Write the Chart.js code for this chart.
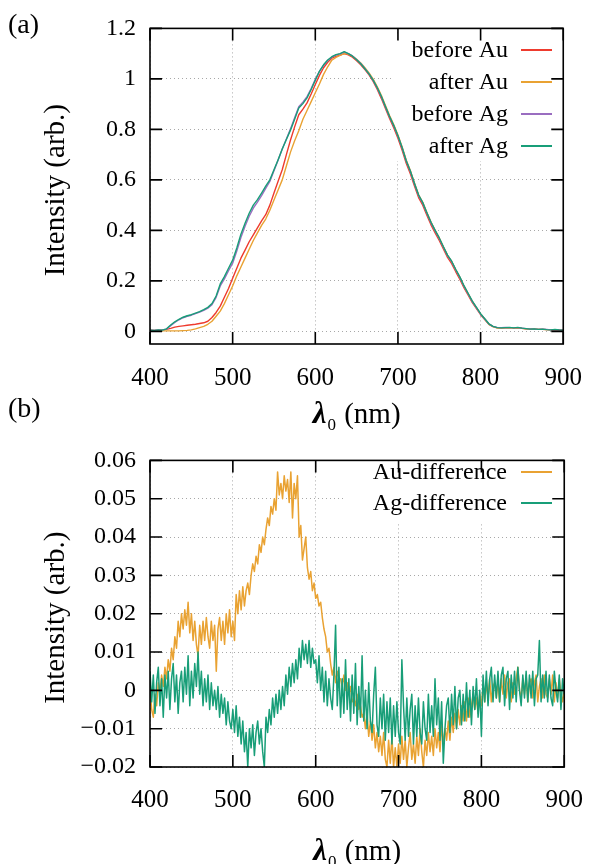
<!DOCTYPE html>
<html><head><meta charset="utf-8">
<script src="https://cdn.jsdelivr.net/npm/chart.js@4.4.1/dist/chart.umd.min.js"></script>
<style>
html,body{margin:0;padding:0;background:#fff;}
#wrap{position:relative;width:601px;height:864px;overflow:hidden;background:#fff;}
canvas{position:absolute;left:0;}
#c1{top:0}
#c2{top:432px}
</style></head><body>
<div id="wrap"><canvas id="c1" width="601" height="432"></canvas><canvas id="c2" width="601" height="432"></canvas></div>
<script>
const FONT = '"Liberation Serif", "Times New Roman", serif';

// ---------- DATA ----------
const xTickValues = [400, 500, 600, 700, 800, 900];
const topYTicks = [0, 0.2, 0.4, 0.6, 0.8, 1, 1.2];
const topYTickLabels = ['0', '0.2', '0.4', '0.6', '0.8', '1', '1.2'];
const bottomYTicks = [-0.02, -0.01, 0, 0.01, 0.02, 0.03, 0.04, 0.05, 0.06];
const bottomYTickLabels = ['\u22120.02', '\u22120.01', '0', '0.01', '0.02', '0.03', '0.04', '0.05', '0.06'];

// wavelengths (nm): top panel sampled every 5 nm, bottom every 2 nm
const topWavelengths = [];
for (let w = 400; w <= 900; w += 5) topWavelengths.push(w);
const bottomWavelengths = [];
for (let w = 400; w <= 900; w += 2) bottomWavelengths.push(w);

const beforeAu = [
 0.005,0.004,0.005,0.006,0.008,0.012,0.017,0.020,0.022,0.024,
 0.026,0.028,0.031,0.034,0.040,0.055,0.075,0.100,0.135,0.170,
 0.210,0.250,0.290,0.322,0.355,0.382,0.410,0.438,0.462,0.500,
 0.548,0.595,0.640,0.700,0.758,0.810,0.858,0.880,0.905,0.940,
 0.978,1.014,1.044,1.066,1.082,1.089,1.094,1.100,1.095,1.086,
 1.072,1.056,1.037,1.016,0.990,0.958,0.922,0.882,0.842,0.806,
 0.765,0.718,0.666,0.624,0.576,0.530,0.500,0.460,0.422,0.390,
 0.360,0.326,0.293,0.268,0.236,0.206,0.172,0.143,0.114,0.090,
 0.066,0.047,0.028,0.019,0.014,0.013,0.014,0.015,0.013,0.014,
 0.012,0.010,0.009,0.009,0.008,0.008,0.007,0.006,0.007,0.006,
 0.005];
const afterAu = [
 0.004,0.003,0.003,0.002,0.002,0.002,0.002,0.002,0.003,0.004,
 0.006,0.010,0.015,0.020,0.028,0.040,0.060,0.080,0.110,0.145,
 0.180,0.220,0.255,0.290,0.325,0.360,0.390,0.420,0.445,0.480,
 0.520,0.560,0.600,0.655,0.710,0.755,0.795,0.840,0.875,0.910,
 0.945,0.980,1.018,1.048,1.074,1.085,1.093,1.100,1.098,1.090,
 1.078,1.063,1.044,1.024,0.999,0.969,0.934,0.894,0.854,0.818,
 0.778,0.731,0.679,0.637,0.588,0.541,0.511,0.471,0.433,0.400,
 0.370,0.335,0.301,0.277,0.244,0.214,0.179,0.149,0.119,0.094,
 0.069,0.049,0.029,0.019,0.014,0.013,0.014,0.015,0.014,0.015,
 0.012,0.010,0.009,0.010,0.008,0.008,0.007,0.006,0.007,0.006,
 0.005];
const beforeAg = [
 0.005,0.004,0.005,0.006,0.009,0.022,0.035,0.046,0.054,0.060,
 0.064,0.070,0.076,0.083,0.092,0.106,0.135,0.180,0.208,0.240,
 0.270,0.318,0.372,0.416,0.456,0.488,0.512,0.538,0.566,0.594,
 0.636,0.678,0.722,0.762,0.802,0.846,0.890,0.908,0.930,0.962,
 0.998,1.030,1.054,1.073,1.086,1.094,1.099,1.106,1.100,1.091,
 1.077,1.061,1.041,1.020,0.994,0.963,0.928,0.888,0.849,0.813,
 0.773,0.727,0.675,0.633,0.584,0.538,0.508,0.468,0.430,0.398,
 0.368,0.333,0.300,0.276,0.243,0.213,0.178,0.148,0.118,0.093,
 0.068,0.049,0.030,0.020,0.016,0.015,0.016,0.015,0.015,0.015,
 0.013,0.011,0.010,0.009,0.008,0.009,0.008,0.006,0.007,0.006,
 0.005];
const afterAg = [
 0.005,0.004,0.006,0.005,0.010,0.025,0.038,0.048,0.056,0.062,
 0.066,0.072,0.078,0.086,0.095,0.110,0.140,0.188,0.217,0.250,
 0.282,0.330,0.385,0.428,0.468,0.500,0.522,0.548,0.575,0.600,
 0.640,0.680,0.722,0.760,0.797,0.840,0.885,0.902,0.925,0.958,
 0.995,1.030,1.056,1.075,1.088,1.096,1.100,1.108,1.100,1.090,
 1.076,1.060,1.040,1.020,0.995,0.965,0.930,0.890,0.850,0.815,
 0.775,0.728,0.676,0.635,0.586,0.540,0.510,0.470,0.432,0.400,
 0.370,0.335,0.302,0.278,0.245,0.215,0.180,0.150,0.120,0.095,
 0.070,0.050,0.030,0.020,0.015,0.014,0.015,0.016,0.014,0.016,
 0.013,0.011,0.009,0.010,0.008,0.009,0.007,0.006,0.008,0.006,
 0.005];

const auDifference = [
 0.001,-0.005,-0.007,-0.001,-0.004,0.002,-0.001,0.004,0.001,0.006,
 0.003,0.008,0.005,0.011,0.008,0.014,0.011,0.018,0.014,0.020,
 0.016,0.021,0.017,0.023,0.015,0.020,0.013,0.018,0.012,0.009,
 0.017,0.012,0.018,0.013,0.019,0.014,0.011,0.018,0.013,0.017,
 0.005,0.016,0.019,0.013,0.018,0.012,0.020,0.015,0.021,0.014,
 0.018,0.013,0.025,0.020,0.026,0.021,0.027,0.022,0.026,0.028,
 0.025,0.030,0.033,0.031,0.035,0.033,0.038,0.036,0.040,0.038,
 0.042,0.045,0.043,0.048,0.046,0.050,0.047,0.057,0.051,0.054,
 0.050,0.056,0.052,0.055,0.049,0.057,0.045,0.054,0.050,0.056,
 0.040,0.043,0.034,0.037,0.040,0.032,0.029,0.031,0.026,0.028,
 0.024,0.025,0.022,0.023,0.019,0.016,0.014,0.010,0.011,0.007,
 0.004,0.006,0.002,0.005,0.003,0.003,0.001,0.004,0.000,0.002,
 -0.001,0.001,-0.003,-0.002,-0.004,-0.001,-0.005,-0.004,-0.007,-0.006,
 -0.010,-0.006,-0.012,-0.008,-0.013,-0.009,-0.015,-0.011,-0.016,-0.012,
 -0.017,-0.011,-0.018,-0.020,-0.013,-0.019,-0.012,-0.020,-0.015,-0.020,
 -0.014,-0.019,-0.012,-0.018,-0.013,-0.020,-0.015,-0.011,-0.018,-0.014,
 -0.019,-0.012,-0.017,-0.010,-0.016,-0.020,-0.013,-0.017,-0.011,-0.016,
 -0.012,-0.017,-0.010,-0.015,-0.011,-0.016,-0.009,-0.014,-0.010,-0.013,
 -0.008,-0.013,-0.007,-0.011,-0.006,-0.010,-0.005,-0.009,-0.004,-0.008,
 -0.003,-0.008,-0.002,-0.007,-0.004,-0.001,-0.005,-0.002,-0.006,-0.001,
 -0.004,0.001,-0.003,0.002,-0.002,0.003,-0.003,0.001,0.002,-0.002,
 0.002,-0.003,0.003,-0.001,0.004,-0.002,0.002,0.003,-0.003,0.002,
 -0.001,0.003,0.006,0.000,-0.002,0.003,-0.001,0.004,-0.003,0.002,
 0.003,-0.002,0.002,0.004,-0.003,0.001,0.003,-0.002,0.004,-0.001,
 -0.002,0.003,-0.001,0.004,-0.003,0.002,-0.002,0.003,-0.001,-0.003,
 0.000];
const agDifference = [
 0.005,-0.003,0.004,-0.006,0.002,0.006,-0.004,0.003,-0.007,0.004,
 -0.002,0.005,-0.005,0.003,0.007,-0.003,0.004,-0.006,0.002,0.005,
 -0.003,0.006,-0.001,0.009,-0.004,0.005,-0.002,0.007,0.001,0.010,
 -0.001,0.005,-0.004,0.003,-0.003,0.004,-0.005,0.002,-0.004,0.000,
 -0.005,0.001,-0.007,-0.001,-0.006,-0.002,-0.009,-0.003,-0.008,-0.010,
 -0.005,-0.011,-0.004,-0.012,-0.007,-0.014,-0.008,-0.016,-0.011,-0.020,
 -0.010,-0.015,-0.009,-0.017,-0.011,-0.008,-0.014,-0.010,-0.016,-0.020,
 -0.007,-0.011,-0.005,-0.009,-0.002,-0.007,-0.001,-0.006,0.000,-0.005,
 0.001,-0.004,0.004,-0.001,0.006,0.001,0.007,0.002,0.008,0.003,
 0.011,0.006,0.013,0.008,0.012,0.007,0.013,0.006,0.011,0.007,
 0.008,0.002,0.009,0.000,0.006,-0.003,0.005,-0.004,0.003,-0.002,
 -0.005,0.004,0.017,-0.004,0.006,-0.007,0.003,-0.006,0.008,-0.005,
 0.003,-0.008,0.004,-0.006,0.007,-0.009,0.001,-0.007,0.009,-0.008,
 0.000,-0.010,0.002,-0.008,-0.011,-0.001,0.006,-0.009,-0.012,-0.002,
 -0.010,-0.001,-0.013,-0.003,-0.011,-0.002,-0.014,-0.004,-0.012,-0.003,
 -0.011,-0.014,0.008,-0.004,-0.013,-0.002,-0.012,-0.005,-0.001,-0.014,
 -0.004,-0.012,-0.002,-0.011,-0.014,-0.003,-0.010,-0.013,-0.001,-0.011,
 -0.004,-0.012,0.003,-0.009,-0.002,-0.013,-0.003,-0.019,-0.010,-0.004,
 -0.002,-0.011,-0.001,-0.009,0.001,-0.010,-0.002,0.000,-0.009,-0.001,
 -0.008,0.002,-0.007,0.000,-0.009,0.001,-0.005,0.003,-0.007,0.000,
 -0.012,0.004,-0.003,0.005,-0.004,0.003,0.006,-0.003,0.004,-0.002,
 0.005,-0.003,0.004,0.006,-0.004,0.003,0.005,-0.005,0.004,-0.002,
 0.005,-0.003,0.006,0.000,-0.004,0.004,-0.002,0.005,-0.003,0.004,
 -0.002,0.005,-0.004,0.003,0.004,0.013,-0.003,0.004,-0.002,0.005,
 -0.003,0.004,-0.002,-0.004,0.005,0.000,-0.003,0.004,-0.005,0.003,
 -0.001];

const COLORS = { red: '#ee3b2e', orange: '#e9a232', purple: '#9a6dc0', teal: '#189e78' };

// ---------- DRAWING ----------
function drawXTitle(ctx, cx, baseline) {
  const lamFont = 'italic bold 31px ' + FONT;
  const subFont = '17px ' + FONT;
  const mainFont = '29px ' + FONT;
  ctx.font = lamFont; const wl = ctx.measureText('\u03bb').width;
  ctx.font = subFont; const ws = ctx.measureText('0').width;
  ctx.font = mainFont; const wr = ctx.measureText(' (nm)').width;
  let x = cx - (wl + ws + wr + 2) / 2;
  ctx.textAlign = 'left'; ctx.textBaseline = 'alphabetic'; ctx.fillStyle = '#000';
  ctx.font = lamFont; ctx.fillText('\u03bb', x, baseline); x += wl + 1;
  ctx.font = subFont; ctx.fillText('0', x, baseline + 7); x += ws + 1;
  ctx.font = mainFont; ctx.fillText(' (nm)', x, baseline);
}

function decorPlugin(o) {
  return {
    id: 'decor',
    beforeDatasetsDraw(chart) {
      const ctx = chart.ctx, b = o.keyBox;
      ctx.save(); ctx.fillStyle = '#fff';
      ctx.fillRect(b[0], b[1], b[2] - b[0], b[3] - b[1]);
      ctx.restore();
    },
    afterDraw(chart) {
      const ctx = chart.ctx, a = chart.chartArea;
      const xs = chart.scales.x, ys = chart.scales.y;
      ctx.save();
      // legend (key)
      ctx.font = '24px ' + FONT; ctx.textAlign = 'right'; ctx.textBaseline = 'middle';
      chart.data.datasets.forEach((ds, i) => {
        const y = o.keyY0 + i * o.keyStep;
        ctx.fillStyle = '#000';
        ctx.fillText(ds.label, o.keyTextRight, y + 1);
        ctx.strokeStyle = ds.borderColor; ctx.lineWidth = 2;
        ctx.beginPath(); ctx.moveTo(o.keyLine[0], y); ctx.lineTo(o.keyLine[1], y); ctx.stroke();
      });
      // frame
      ctx.strokeStyle = '#000'; ctx.lineWidth = 1.6;
      ctx.strokeRect(a.left, a.top, a.right - a.left, a.bottom - a.top);
      // inward ticks on all four sides
      const T = 12;
      ctx.beginPath();
      xTickValues.forEach(v => {
        const px = xs.getPixelForValue(v);
        ctx.moveTo(px, a.bottom); ctx.lineTo(px, a.bottom - T);
        ctx.moveTo(px, a.top); ctx.lineTo(px, a.top + T);
      });
      o.yTicks.forEach(v => {
        const py = ys.getPixelForValue(v);
        ctx.moveTo(a.left, py); ctx.lineTo(a.left + T, py);
        ctx.moveTo(a.right, py); ctx.lineTo(a.right - T, py);
      });
      ctx.stroke();
      // axis titles
      ctx.fillStyle = '#000';
      ctx.save();
      ctx.translate(56, (a.top + a.bottom) / 2 + 4);
      ctx.rotate(-Math.PI / 2);
      ctx.font = '29px ' + FONT; ctx.textAlign = 'center'; ctx.textBaseline = 'middle';
      ctx.fillText('Intensity (arb.)', 0, 0);
      ctx.restore();
      drawXTitle(ctx, (a.left + a.right) / 2, a.bottom + o.xTitleOffset);
      // panel labels
      ctx.font = '28px ' + FONT; ctx.textAlign = 'left'; ctx.textBaseline = 'middle';
      o.panelLabels.forEach(p => ctx.fillText(p.text, p.x, p.y));
      ctx.restore();
    }
  };
}

function makeChart(canvas, o) {
  return new Chart(canvas, {
    type: 'line',
    data: {
      datasets: o.series.map((s, i) => ({
        label: s.label,
        data: s.x.map((x, j) => ({ x: x, y: s.y[j] })),
        borderColor: s.color,
        borderWidth: o.lineWidth,
        pointRadius: 0,
        tension: 0,
        borderJoinStyle: 'round',
        order: o.series.length - i
      }))
    },
    options: {
      responsive: false, animation: false, devicePixelRatio: 1,
      layout: { padding: { top: o.padTop, right: 24, left: 0, bottom: 0 } },
      plugins: { legend: { display: false }, tooltip: { enabled: false } },
      scales: {
        x: {
          type: 'linear', min: 400, max: 900,
          afterBuildTicks: s => { s.ticks = xTickValues.map(v => ({ value: v })); },
          afterFit: s => { s.height = o.xAxisHeight; },
          grid: { color: '#a8a8a8', lineWidth: 1, drawTicks: false },
          border: { display: false, dash: [1, 3] },
          ticks: { font: { family: FONT, size: 25 }, color: '#000', padding: o.xPad, maxRotation: 0, autoSkip: false,
                   callback: (v, i) => String(xTickValues[i]) }
        },
        y: {
          type: 'linear', min: o.yMin, max: o.yMax,
          afterBuildTicks: s => { s.ticks = o.yTicks.map(v => ({ value: v })); },
          afterFit: s => { s.width = 150; },
          grid: { color: '#a8a8a8', lineWidth: 1, drawTicks: false },
          border: { display: false, dash: [1, 3] },
          ticks: { font: { family: FONT, size: 24 }, color: '#000', padding: 14, autoSkip: false,
                   callback: (v, i) => o.yLabels[i] }
        }
      }
    },
    plugins: [decorPlugin(o)]
  });
}

makeChart(document.getElementById('c1'), {
  series: [
    { label: 'before Au', x: topWavelengths, y: beforeAu, color: COLORS.red },
    { label: 'after Au', x: topWavelengths, y: afterAu, color: COLORS.orange },
    { label: 'before Ag', x: topWavelengths, y: beforeAg, color: COLORS.purple },
    { label: 'after Ag', x: topWavelengths, y: afterAg, color: COLORS.teal }
  ],
  lineWidth: 1.4,
  padTop: 20, xAxisHeight: 88, xPad: 19,
  yMin: -0.05, yMax: 1.2, yTicks: topYTicks, yLabels: topYTickLabels,
  keyBox: [393, 35, 577, 161], keyY0: 50, keyStep: 32, keyTextRight: 508, keyLine: [521, 552],
  xTitleOffset: 79,
  panelLabels: [{ text: '(a)', x: 8, y: 26 }, { text: '(b)', x: 8, y: 410 }]
});

makeChart(document.getElementById('c2'), {
  series: [
    { label: 'Au-difference', x: bottomWavelengths, y: auDifference, color: COLORS.orange },
    { label: 'Ag-difference', x: bottomWavelengths, y: agDifference, color: COLORS.teal }
  ],
  lineWidth: 1.5,
  padTop: 11, xAxisHeight: 97, xPad: 18,
  yMin: -0.02, yMax: 0.06, yTicks: bottomYTicks, yLabels: bottomYTickLabels,
  keyBox: [343, 14, 577, 90], keyY0: 40, keyStep: 31, keyTextRight: 507, keyLine: [521, 552],
  xTitleOffset: 93,
  panelLabels: []
});
</script>
</body></html>
